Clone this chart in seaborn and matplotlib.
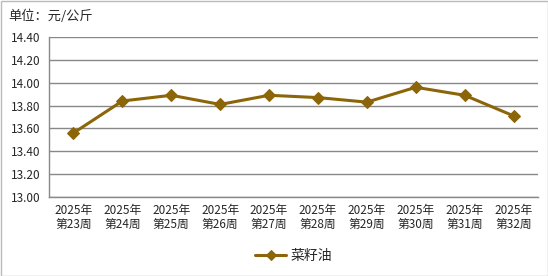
import matplotlib
matplotlib.use("Agg")
import matplotlib.pyplot as plt
import seaborn as sns
import pandas as pd
import numpy as np
from matplotlib.ticker import FixedLocator
from matplotlib.patches import Rectangle

weeks = ["2025年\n第23周", "2025年\n第24周", "2025年\n第25周", "2025年\n第26周", "2025年\n第27周",
         "2025年\n第28周", "2025年\n第29周", "2025年\n第30周", "2025年\n第31周", "2025年\n第32周"]
prices = [13.56, 13.84, 13.89, 13.81, 13.89, 13.87, 13.83, 13.96, 13.89, 13.71]
series_name = "菜籽油"
y_ticks = [13.00, 13.20, 13.40, 13.60, 13.80, 14.00, 14.20, 14.40]
unit_label = "单位：元/公斤"

sns.set_style("white")
plt.rcParams['font.family'] = ['Noto Sans CJK SC', 'DejaVu Sans']

df = pd.DataFrame({"week": weeks, "price": prices, "series": series_name})
df["x"] = range(len(weeks))

color = "#8C6508"
fig = plt.figure(figsize=(5.48, 2.76), dpi=100)
ax = fig.add_axes([49/548, 1-197/276, (538-49)/548, (197-37)/276])

sns.lineplot(data=df, x="x", y="price", hue="series", palette=[color], marker="D",
             markersize=6, markeredgecolor=color, linewidth=2.2, ax=ax)

ax.set_xlim(-0.5, len(weeks) - 0.5)
ax.set_ylim(13.0, 14.4)
ax.set_yticks(y_ticks)
ax.set_yticklabels([f"{v:.2f}" for v in y_ticks], fontsize=8.5)
ax.set_xticks(range(len(weeks)))
ax.set_xticklabels(weeks, fontsize=8.5, linespacing=1.1)
ax.xaxis.set_minor_locator(FixedLocator(np.arange(-0.5, len(weeks), 1.0)))
ax.tick_params(axis="x", which="major", length=0, pad=5)
ax.tick_params(axis="x", which="minor", length=4, color="#888888", width=1)
ax.tick_params(axis="y", length=4, color="#888888", width=1, pad=2)
ax.yaxis.grid(True, color="#888888", linewidth=1)
ax.set_axisbelow(True)
for s in ["top", "right"]:
    ax.spines[s].set_visible(False)
for s in ["left", "bottom"]:
    ax.spines[s].set_color("#888888")
    ax.spines[s].set_linewidth(1)
ax.set_xlabel("")
ax.set_ylabel("")

leg = ax.legend(loc="upper center", bbox_to_anchor=(0.5, -0.245), frameon=False,
                fontsize=10, handlelength=2.2, handletextpad=0.3, markerscale=0.9)

fig.text(8/548, 1-16/276, unit_label, fontsize=9.5, va="center", ha="left")
fig.patches.append(Rectangle((0.5/548, 0.5/276), 1-1/548, 1-1/276, transform=fig.transFigure,
                             fill=False, edgecolor="#BBBBBB", linewidth=1))

fig.savefig("out.png", dpi=100)
